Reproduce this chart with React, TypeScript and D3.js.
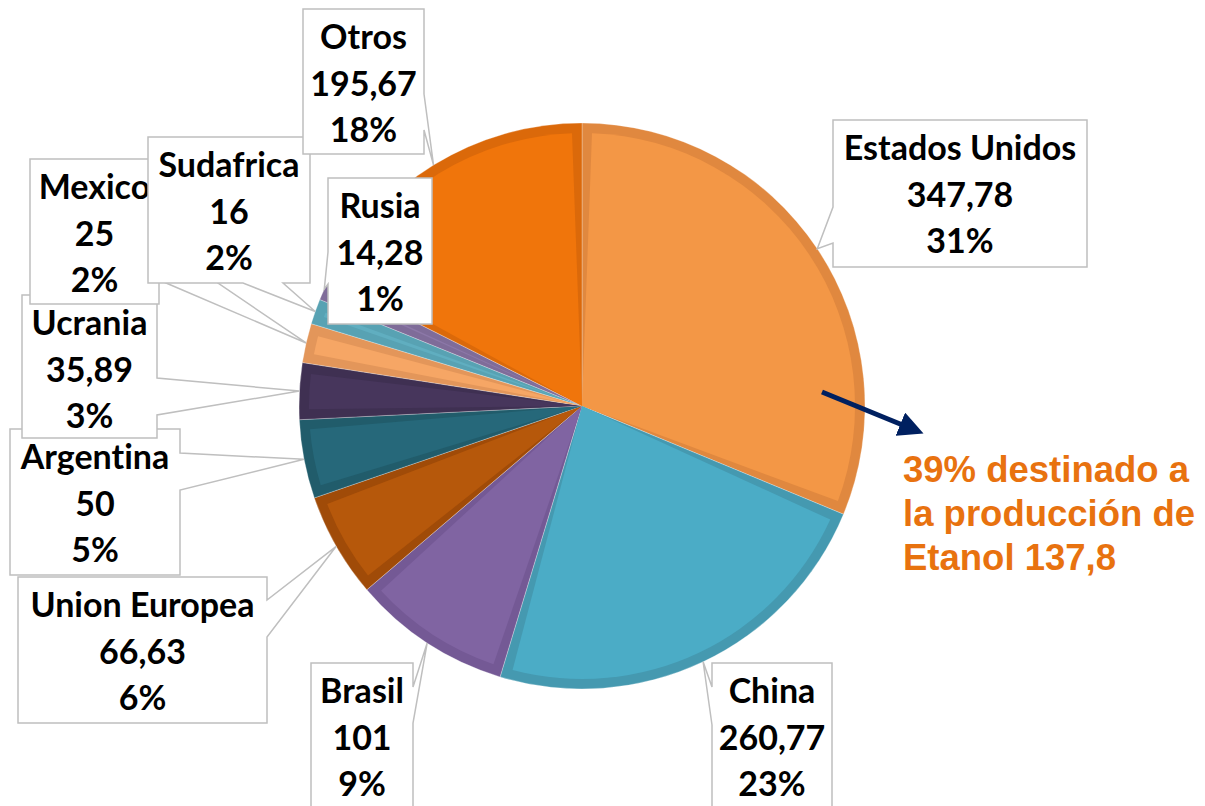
import React, { useEffect, useRef } from 'react';
import * as d3 from 'd3';

// production by country (millones de toneladas)
const countries = ['Estados Unidos', 'China', 'Brasil', 'Union Europea', 'Argentina', 'Ucrania', 'Mexico', 'Sudafrica', 'Rusia', 'Otros'];
const values = [347.78, 260.77, 101, 66.63, 50, 35.89, 25, 16, 14.28, 195.67];
const percentLabels = ['31%', '23%', '9%', '6%', '5%', '3%', '2%', '2%', '1%', '18%'];
const fills = ['#F39746', '#4BACC6', '#8064A2', '#B6580B', '#26687A', '#47365C', '#F6A665', '#60AEC0', '#8C78A8', '#F0750B'];
const borders = ['#E0883F', '#4599B0', '#745995', '#A04B08', '#215C6B', '#3F3052', '#E3965A', '#58A2B3', '#7F6C99', '#DB690A'];

const noteLines = ['39% destinado a', 'la producción de', 'Etanol 137,8'];

// callout boxes: x, y, w, h, side of the pointer and the two base points along that side
const callouts = {
  'Estados Unidos': { x: 833, y: 120, w: 254, h: 147, side: 'left', b: [207, 243] },
  'China': { x: 712, y: 663, w: 120, h: 170, side: 'left', b: [687, 725] },
  'Brasil': { x: 311, y: 663, w: 102, h: 170, side: 'right', b: [687, 723] },
  'Union Europea': { x: 18, y: 577, w: 249, h: 146, side: 'right', b: [600, 637] },
  'Argentina': { x: 10, y: 429, w: 170, h: 146, side: 'right', b: [453, 490] },
  'Ucrania': { x: 22, y: 295, w: 135, h: 143, side: 'right', b: [378, 415] },
  'Mexico': { x: 30, y: 159, w: 129, h: 145, side: 'right', b: [243, 280] },
  'Sudafrica': { x: 148, y: 137, w: 162, h: 146, side: 'bottom', b: [243, 283] },
  'Otros': { x: 303, y: 9, w: 121, h: 145, side: 'right', b: [94, 130] },
  'Rusia': { x: 328, y: 178, w: 104, h: 146, side: 'left', b: [252, 284] },
};
const drawOrder = ['Argentina', 'Ucrania', 'Mexico', 'Sudafrica', 'Otros', 'Union Europea', 'Brasil', 'China', 'Estados Unidos', 'Rusia'];

const App = () => {
  const ref = useRef<SVGSVGElement>(null);

  useEffect(() => {
    const width = 1205;
    const height = 806;
    const cx = 582;
    const cy = 406;
    const r = 283;
    const border = 10;

    const svg = d3.select(ref.current);
    svg.selectAll('*').remove();

    const data = countries.map((name, i) => ({ name, value: values[i], i }));
    const pie = d3.pie<any>().sort(null).value(d => d.value);
    const arcs = pie(data);

    const outer = d3.arc<any>().innerRadius(0).outerRadius(r);
    const inner = d3.arc<any>().innerRadius(0).outerRadius(r - border).padRadius(r).padAngle((2 * border) / r);
    const edge = d3.arc<any>().innerRadius(r).outerRadius(r);

    const g = svg.append('g').attr('transform', `translate(${cx},${cy})`);

    g.selectAll('path.outer')
      .data(arcs)
      .join('path')
      .attr('class', 'outer')
      .attr('d', outer)
      .attr('fill', d => borders[d.data.i])
      .attr('stroke', '#ffffff')
      .attr('stroke-opacity', 0.35)
      .attr('stroke-width', 0.8);

    g.selectAll('path.inner')
      .data(arcs)
      .join('path')
      .attr('class', 'inner')
      .attr('d', inner)
      .attr('fill', d => fills[d.data.i]);

    // callouts
    const byName = new Map(arcs.map(a => [a.data.name, a]));
    const labels = svg.append('g');

    drawOrder.forEach(name => {
      const a = byName.get(name)!;
      const c = (callouts as any)[name];
      const [tx, ty] = edge.centroid(a);
      const tip: [number, number] = [cx + tx, cy + ty];
      const { x, y, w, h, side, b } = c;
      const pts: [number, number][] = [[x, y], [x + w, y]];
      if (side === 'right') pts.push([x + w, b[0]], tip, [x + w, b[1]]);
      pts.push([x + w, y + h]);
      if (side === 'bottom') pts.push([b[1], y + h], tip, [b[0], y + h]);
      pts.push([x, y + h]);
      if (side === 'left') pts.push([x, b[1]], tip, [x, b[0]]);

      labels.append('path')
        .attr('d', d3.line()(pts) + 'Z')
        .attr('fill', '#ffffff')
        .attr('stroke', '#BFBFBF')
        .attr('stroke-width', 1.5)
        .attr('stroke-linejoin', 'miter');

      const i = a.data.i;
      const lines = [name, String(values[i]).replace('.', ','), percentLabels[i]];
      labels.append('text')
        .attr('text-anchor', 'middle')
        .attr('font-family', 'Lato, sans-serif')
        .attr('font-weight', 'bold')
        .attr('font-size', 34)
        .style('font-variant-ligatures', 'none')
        .attr('fill', '#000000')
        .selectAll('tspan')
        .data(lines)
        .join('tspan')
        .attr('x', x + w / 2)
        .attr('y', (_, k) => y + 40 + k * 46.5)
        .text(t => t);
    });

    // arrow and note
    const defs = svg.append('defs');
    defs.append('marker')
      .attr('id', 'arrowhead')
      .attr('viewBox', '0 0 10 10')
      .attr('refX', 2)
      .attr('refY', 5)
      .attr('markerWidth', 5)
      .attr('markerHeight', 5)
      .attr('orient', 'auto')
      .append('path')
      .attr('d', 'M0,0L10,5L0,10Z')
      .attr('fill', '#002060');

    svg.append('line')
      .attr('x1', 822)
      .attr('y1', 392)
      .attr('x2', 905)
      .attr('y2', 426)
      .attr('stroke', '#002060')
      .attr('stroke-width', 5)
      .attr('marker-end', 'url(#arrowhead)');

    svg.append('text')
      .attr('font-family', '"Liberation Sans", Arial, sans-serif')
      .attr('font-weight', 'bold')
      .attr('font-size', 36.5)
      .attr('fill', '#E8720F')
      .selectAll('tspan')
      .data(noteLines)
      .join('tspan')
      .attr('x', 903)
      .attr('y', (_, k) => 482 + k * 44)
      .text(t => t);

    svg.attr('width', width).attr('height', height);
  }, []);

  return (
    <svg
      ref={ref}
      width={1205}
      height={806}
      style={{ position: 'absolute', left: 0, top: 0, display: 'block', background: '#ffffff' }}
    />
  );
};

export default App;
